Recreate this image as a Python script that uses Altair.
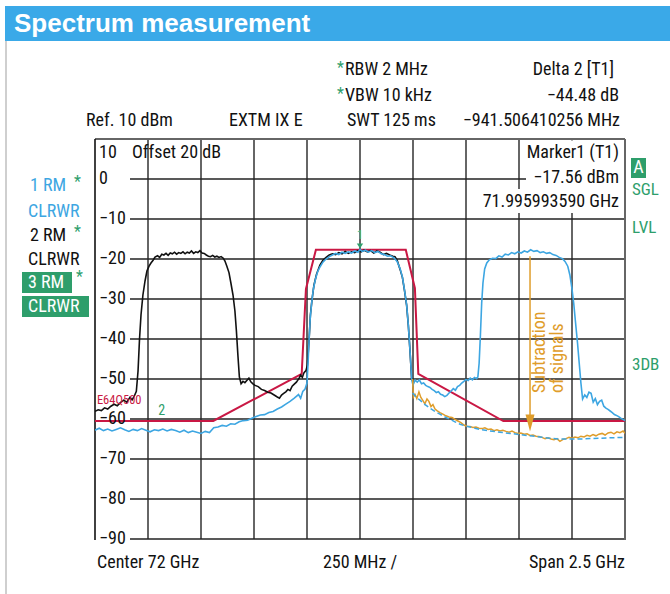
import altair as alt
import pandas as pd

# ---------------- data (frequency in GHz, level in dBm) ----------------
blue_f = [70.75, 70.77, 70.79, 70.81, 70.83, 70.85, 70.87, 70.89, 70.91, 70.93, 70.95, 70.97, 70.99,
          71.01, 71.03, 71.05, 71.07, 71.09, 71.11, 71.13, 71.15, 71.17, 71.19, 71.21, 71.23, 71.25,
          71.27, 71.29, 71.31, 71.33, 71.35, 71.37, 71.39, 71.41, 71.43, 71.45, 71.47, 71.49, 71.51,
          71.53, 71.55, 71.57, 71.59, 71.61, 71.63, 71.65, 71.67, 71.69, 71.71, 71.72, 71.73, 71.74,
          71.750, 71.755, 71.760, 71.765, 71.772, 71.780, 71.790, 71.800, 71.811, 71.825, 71.840,
          71.855, 71.870, 71.885, 71.900, 71.915, 71.930, 71.945, 71.960, 71.975, 71.990, 72.000,
          72.010, 72.025, 72.040, 72.055, 72.070, 72.085, 72.100, 72.115, 72.130, 72.145, 72.160,
          72.175, 72.189, 72.200, 72.210, 72.220, 72.228, 72.236, 72.244,
          72.250, 72.260, 72.270, 72.280, 72.290, 72.300, 72.310, 72.320, 72.330, 72.340, 72.350,
          72.360, 72.370, 72.380, 72.390, 72.400, 72.410, 72.420, 72.430, 72.440, 72.450, 72.460,
          72.470, 72.480, 72.490, 72.500, 72.510, 72.520, 72.530, 72.540, 72.550,
          72.556, 72.562, 72.568, 72.574, 72.580, 72.588, 72.598, 72.610, 72.625, 72.640, 72.655,
          72.670, 72.685, 72.700, 72.715, 72.730, 72.745, 72.760, 72.775, 72.790, 72.805, 72.820,
          72.835, 72.850, 72.865, 72.880, 72.895, 72.910, 72.925, 72.940, 72.955, 72.967, 72.980,
          72.990, 73.000, 73.008, 73.016, 73.026, 73.034, 73.042, 73.050,
          73.060, 73.070, 73.080, 73.090, 73.100, 73.110, 73.120, 73.130, 73.140, 73.150, 73.160,
          73.170, 73.180, 73.190, 73.200, 73.210, 73.220, 73.230, 73.240, 73.250]
blue_db = [-62.8, -62.3, -62.9, -62.5, -63.0, -62.6, -62.2, -62.7, -63.1, -62.6, -62.9, -62.4, -62.8,
           -63.2, -62.7, -62.9, -62.5, -63.0, -62.6, -62.9, -63.3, -62.8, -63.4, -63.0, -63.3, -63.6,
           -63.1, -63.4, -62.2, -62.0, -61.6, -61.8, -61.2, -61.3, -60.7, -60.4, -60.3, -59.8, -59.4,
           -59.0, -58.9, -58.4, -58.1, -57.5, -57.0, -56.3, -55.6, -54.8, -53.9, -54.8, -53.1, -52.6,
           -51.0, -46.0, -40.0, -35.0, -31.0, -27.5, -25.0, -23.2, -22.0, -20.8, -20.0,
           -19.4, -19.0, -18.6, -18.9, -18.3, -18.6, -18.2, -18.5, -18.0, -18.3, -17.6,
           -18.1, -17.8, -18.3, -17.9, -18.4, -18.1, -18.7, -18.9, -19.3, -19.2, -19.7,
           -20.6, -22.4, -24.5, -27.8, -31.5, -36.5, -43.0, -50.2,
           -51.5, -50.3, -50.8, -50.2, -51.2, -51.0, -51.6, -51.9, -52.1, -52.6, -52.9,
           -53.4, -53.2, -53.8, -54.0, -54.4, -54.1, -53.5, -53.0, -52.4, -52.8, -51.9,
           -51.6, -51.0, -50.6, -50.1, -50.4, -49.8, -50.2, -49.6, -49.9,
           -49.5, -46.0, -39.0, -31.0, -26.0, -22.5, -21.0, -20.2, -19.8, -19.9, -19.2,
           -19.5, -18.8, -19.0, -18.4, -18.7, -18.2, -18.5, -18.0, -18.3, -17.7, -18.1,
           -17.9, -18.4, -18.2, -18.6, -18.4, -18.9, -19.1, -19.6, -19.9, -20.6, -21.8,
           -24.0, -27.5, -31.0, -35.5, -41.0, -46.0, -51.0, -55.0,
           -54.0, -54.6, -53.3, -53.6, -55.8, -54.9, -56.4, -55.6, -55.3, -56.8, -57.3,
           -57.6, -58.0, -58.4, -58.9, -59.1, -59.4, -59.8, -60.1, -60.4]

black_f = [70.750, 70.765, 70.780, 70.795, 70.810, 70.825, 70.840, 70.855, 70.870, 70.885, 70.900,
           70.915, 70.925, 70.935, 70.945, 70.953, 70.960, 70.967, 70.976, 70.986, 70.995, 71.005,
           71.014, 71.024, 71.033, 71.045, 71.055, 71.065, 71.075, 71.085, 71.095, 71.105, 71.115,
           71.125, 71.135, 71.145, 71.155, 71.165, 71.175, 71.185, 71.195, 71.205, 71.215, 71.225,
           71.235, 71.245, 71.255, 71.265, 71.275, 71.285, 71.295, 71.305, 71.315, 71.325, 71.335,
           71.345, 71.355, 71.363, 71.372, 71.382, 71.391, 71.401, 71.410, 71.417, 71.424, 71.431,
           71.439, 71.448, 71.457, 71.467, 71.476, 71.485, 71.495, 71.505, 71.520, 71.535, 71.550,
           71.565, 71.580, 71.595, 71.610, 71.620, 71.630, 71.640, 71.650, 71.660, 71.670, 71.680,
           71.690, 71.700, 71.705, 71.712, 71.720, 71.728, 71.736, 71.745, 71.752, 71.760, 71.766,
           71.774, 71.783, 71.795, 71.811, 71.825, 71.840, 71.855, 71.870, 71.885, 71.900, 71.915,
           71.930, 71.945, 71.960, 71.975, 71.990, 72.005, 72.020, 72.035, 72.050, 72.065, 72.080,
           72.095, 72.110, 72.125, 72.140, 72.155, 72.165, 72.175, 72.189, 72.200, 72.210, 72.220,
           72.228, 72.236, 72.244]
black_db = [-58.1, -57.7, -57.9, -57.2, -57.5, -56.8, -56.3, -56.7, -55.9, -55.3, -55.8,
            -54.6, -55.2, -54.3, -53.1, -48.0, -40.0, -34.0, -29.0, -25.5, -23.0, -21.8,
            -21.0, -20.3, -19.5, -19.2, -19.6, -18.8, -19.0, -18.6, -19.1, -18.5, -18.7,
            -18.3, -18.8, -18.4, -18.6, -18.2, -18.7, -18.3, -18.5, -18.0, -18.6, -18.2,
            -18.4, -17.9, -18.5, -18.6, -19.0, -19.3, -19.4, -19.1, -19.5, -19.3, -19.6,
            -19.4, -19.8, -20.5, -21.8, -23.4, -26.0, -29.0, -33.0, -38.0, -44.0, -49.5,
            -51.2, -50.6, -50.9, -50.3, -49.8, -50.7, -51.2, -51.6, -51.9, -52.6, -52.9,
            -53.3, -53.5, -54.0, -54.5, -54.8, -54.0, -53.6, -53.2, -52.6, -52.9, -51.8,
            -51.3, -50.8, -50.4, -49.9, -49.0, -49.6, -48.4, -47.9, -46.5, -40.0, -34.0,
            -30.0, -26.5, -23.8, -21.5, -20.3, -19.6, -19.0, -18.7, -18.9, -18.4, -18.7,
            -18.1, -18.6, -18.2, -18.4, -17.9, -18.2, -17.8, -18.2, -17.9, -18.5, -18.0,
            -18.3, -18.9, -18.6, -19.0, -19.3, -19.4, -20.3, -22.6, -24.6, -27.9, -31.6,
            -36.6, -43.1, -50.3]

orange_f = [72.248, 72.252, 72.259, 72.268, 72.278, 72.287, 72.297, 72.306, 72.316, 72.325, 72.335,
            72.344, 72.354, 72.363, 72.377, 72.391, 72.405, 72.420, 72.434, 72.448, 72.462, 72.476,
            72.490, 72.504, 72.519, 72.533, 72.547, 72.561, 72.575, 72.589, 72.604, 72.618, 72.632,
            72.646, 72.660, 72.674, 72.689, 72.703, 72.717, 72.731, 72.745, 72.759, 72.774, 72.788,
            72.802, 72.816, 72.830, 72.844, 72.858, 72.873, 72.887, 72.901, 72.915, 72.929, 72.943,
            72.958, 72.972, 72.986, 73.000, 73.014, 73.028, 73.042, 73.057, 73.071, 73.085, 73.099,
            73.113, 73.127, 73.142, 73.156, 73.170, 73.184, 73.198, 73.212, 73.226, 73.241, 73.250]
orange_db = [-50.0, -54.5, -53.8, -54.9, -53.2, -54.6, -55.4, -56.2, -55.0, -55.6, -56.9,
             -56.4, -57.5, -57.9, -58.4, -58.8, -59.2, -59.5, -59.6, -60.1, -60.5, -60.9,
             -61.5, -61.8, -61.9, -62.1, -62.0, -62.3, -62.4, -62.2, -62.6, -62.5, -62.9,
             -62.7, -63.0, -62.8, -63.1, -63.3, -63.0, -63.4, -63.6, -63.5, -63.8, -63.7,
             -64.1, -64.0, -64.3, -64.4, -64.6, -64.9, -64.7, -65.0, -65.2, -64.9, -65.6,
             -65.1, -64.9, -64.6, -64.8, -64.5, -64.7, -64.3, -64.5, -64.1, -64.3, -63.9,
             -64.2, -63.8, -63.6, -64.0, -63.5, -63.3, -63.7, -63.2, -63.4, -63.0, -63.6]

dashed_f = [72.248, 72.264, 72.283, 72.307, 72.330, 72.354, 72.377, 72.401, 72.425, 72.448, 72.472,
            72.495, 72.519, 72.542, 72.566, 72.613, 72.660, 72.708, 72.755, 72.802, 72.849, 72.896,
            72.943, 72.990, 73.038, 73.085, 73.132, 73.179, 73.250]
dashed_db = [-53.5, -54.5, -55.3, -56.4, -57.3, -58.1, -58.8, -59.5, -60.1, -60.7, -61.3,
             -61.7, -62.0, -62.3, -62.6, -63.0, -63.3, -63.6, -63.9, -64.2, -64.5, -64.8,
             -65.0, -65.0, -65.0, -64.9, -64.8, -64.7, -64.6]

limit_f = [70.750, 71.308, 71.725, 71.745, 71.792, 72.216, 72.259, 72.275, 72.676, 73.250]
limit_db = [-60.5, -60.5, -48.7, -27.5, -17.7, -17.7, -27.3, -48.7, -60.5, -60.5]

grid_f = [71.0, 71.25, 71.5, 71.75, 72.0, 72.25, 72.5, 72.75, 73.0]
grid_db = [0, -10, -20, -30, -40, -50, -60, -70, -80, -90]
y_tick_labels = ["0", "−10", "−20", "−30", "−40", "−50", "−60", "−70", "−80", "−90"]

marker1 = {"f": 72.0, "db": -17.56}
marker2 = {"f": 71.0585, "db": -62.04}
arrow = {"f": 72.802, "top": -19.3, "tip": -63.1}

# ---------------- layout / style ----------------
W, H = 530, 400
X0, Y0 = 95, 139
FONT = "Roboto Condensed, Liberation Sans, sans-serif"
BLUE = "#3da6e2"
BLACK = "#111111"
RED = "#c91844"
ORANGE = "#df9d2b"
GREEN = "#2e9e6b"

xs = alt.Scale(domain=[70.75, 73.25], nice=False, zero=False)
ys = alt.Scale(domain=[-90, 10], nice=False, zero=False)
one = pd.DataFrame({"a": [0]})


def trace(f, db, color, width=1.5, dash=None):
    df = pd.DataFrame({"f": f, "db": db, "i": list(range(len(f)))})
    kw = dict(color=color, strokeWidth=width, clip=True)
    if dash:
        kw["strokeDash"] = dash
    return alt.Chart(df).mark_line(**kw).encode(
        x=alt.X("f:Q", scale=xs, axis=None),
        y=alt.Y("db:Q", scale=ys, axis=None),
        order="i:Q",
    )


def txt(s, x, y, color=BLACK, size=18, align="left", font=FONT, weight="normal"):
    return alt.Chart(pd.DataFrame({"t": [s]})).mark_text(
        align=align, baseline="middle", color=color, fontSize=size, font=font, fontWeight=weight
    ).encode(x=alt.value(x - X0), y=alt.value(y - Y0), text="t:N")


def box(x1, y1, x2, y2, color):
    return alt.Chart(one).mark_rect(color=color).encode(
        x=alt.value(x1 - X0), x2=alt.value(x2 - X0), y=alt.value(y1 - Y0), y2=alt.value(y2 - Y0)
    )


def rule(x1, y1, x2, y2, color, width):
    return alt.Chart(one).mark_rule(color=color, strokeWidth=width).encode(
        x=alt.value(x1 - X0), x2=alt.value(x2 - X0), y=alt.value(y1 - Y0), y2=alt.value(y2 - Y0)
    )


layers = []

# header bar and page border
layers.append(box(5, 6, 670, 41, "#3aa9e8"))
layers.append(txt("Spectrum measurement", 14, 24, "white", 26, font="Liberation Sans, Arial, sans-serif", weight="bold"))
layers.append(rule(6, 41, 6, 594, "#cfcfcf", 2))

# grid
vgrid = alt.Chart(pd.DataFrame({"f": grid_f})).mark_rule(color="#666666", strokeWidth=2).encode(
    x=alt.X("f:Q", scale=xs, axis=None), y=alt.value(0), y2=alt.value(H))
hgrid = alt.Chart(pd.DataFrame({"db": grid_db})).mark_rule(color="#222222", strokeWidth=1.6).encode(
    y=alt.Y("db:Q", scale=ys, axis=None), x=alt.value(35), x2=alt.value(W))
layers += [vgrid, hgrid]

# marker info background
layers.append(box(478, 189, 624, 213, "white"))
layers.append(box(526, 140.5, 624, 189, "white"))

# frame
layers.append(rule(95, 139, 625, 139, "#666666", 2))
layers.append(rule(625, 139, 625, 540, "#666666", 2))
layers.append(rule(95, 139, 95, 540, "#111111", 1.6))

# traces
layers.append(trace(limit_f, limit_db, RED, 2))
layers.append(trace(black_f, black_db, BLACK, 1.6))
layers.append(trace(blue_f, blue_db, BLUE, 1.6))
layers.append(trace(orange_f, orange_db, ORANGE, 1.5))
layers.append(trace(dashed_f, dashed_db, BLUE, 1.5, dash=[5, 3]))

# subtraction arrow
adf = pd.DataFrame({"f": [arrow["f"]], "top": [arrow["top"]], "tip": [arrow["tip"]], "mid": [arrow["tip"] + 2.1]})
layers.append(alt.Chart(adf).mark_rule(color=ORANGE, strokeWidth=1.5).encode(
    x=alt.X("f:Q", scale=xs, axis=None), y=alt.Y("top:Q", scale=ys, axis=None), y2="mid:Q"))
layers.append(alt.Chart(adf).mark_point(
    shape="M -0.53 -1 L 0.53 -1 L 0 1 Z", filled=True, size=289, color=ORANGE, opacity=1).encode(
    x=alt.X("f:Q", scale=xs, axis=None), y=alt.Y("mid:Q", scale=ys, axis=None)))
sub = pd.DataFrame({"f": [72.850, 72.935], "db": [-53.5, -53.5], "t": ["Subtraction", "of signals"]})
layers.append(alt.Chart(sub).mark_text(angle=270, align="left", baseline="middle", color=ORANGE,
                                       fontSize=18, font=FONT).encode(
    x=alt.X("f:Q", scale=xs, axis=None), y=alt.Y("db:Q", scale=ys, axis=None), text="t:N"))

# markers
m1 = pd.DataFrame({"f": [marker1["f"]], "tri": [-16.75], "lab": [-13.9], "t": ["1"]})
layers.append(alt.Chart(m1).mark_point(shape="M -1 -0.8 L 1 -0.8 L 0 0.8 Z", filled=True, size=40,
                                       color=GREEN, opacity=1).encode(
    x=alt.X("f:Q", scale=xs, axis=None), y=alt.Y("tri:Q", scale=ys, axis=None)))
layers.append(alt.Chart(m1).mark_text(color="#4dbb85", fontSize=12, font=FONT, baseline="middle").encode(
    x=alt.X("f:Q", scale=xs, axis=None), y=alt.Y("lab:Q", scale=ys, axis=None), text="t:N"))
m2 = pd.DataFrame({"f": [marker2["f"] + 0.006], "lab": [-57.9], "t": ["2"]})
layers.append(alt.Chart(m2).mark_text(color=GREEN, fontSize=14, font=FONT, baseline="middle").encode(
    x=alt.X("f:Q", scale=xs, axis=None), y=alt.Y("lab:Q", scale=ys, axis=None), text="t:N"))
lim = pd.DataFrame({"f": [70.759], "db": [-55.2], "t": ["E64Q500"]})
layers.append(alt.Chart(lim).mark_text(color=RED, fontSize=12.5, font=FONT, align="left", baseline="middle").encode(
    x=alt.X("f:Q", scale=xs, axis=None), y=alt.Y("db:Q", scale=ys, axis=None), text="t:N"))

# y tick labels (inside the frame)
ylab = pd.DataFrame({"db": grid_db, "t": y_tick_labels})
layers.append(alt.Chart(ylab).mark_text(align="left", baseline="middle", fontSize=18, font=FONT, color=BLACK).encode(
    y=alt.Y("db:Q", scale=ys, axis=None), x=alt.value(4), text="t:N"))
layers.append(txt("10", 99, 153))
layers.append(txt("Offset 20 dB", 132, 153))

# header annotations
layers.append(txt("*", 337, 68, GREEN, 16))
layers.append(txt("RBW  2 MHz", 345, 70))
layers.append(txt("*", 337, 94, GREEN, 16))
layers.append(txt("VBW 10 kHz", 345, 96))
layers.append(txt("Ref. 10 dBm", 86, 121))
layers.append(txt("EXTM IX E", 229, 121))
layers.append(txt("SWT 125 ms", 347, 121))
layers.append(txt("−941.506410256 MHz", 620, 121, align="right"))
layers.append(txt("Delta 2 [T1]", 614, 70, align="right"))
layers.append(txt("−44.48 dB", 619, 96, align="right"))

# marker readout
layers.append(txt("Marker1 (T1)", 619, 153, align="right"))
layers.append(txt("−17.56 dBm", 619, 178, align="right"))
layers.append(txt("71.995993590 GHz", 619, 202, align="right"))

# trace labels on the left
layers.append(txt("1 RM", 30, 186, BLUE))
layers.append(txt("*", 74, 182, GREEN, 16))
layers.append(txt("CLRWR", 28, 212, BLUE))
layers.append(txt("2 RM", 30, 236))
layers.append(txt("*", 74, 232, GREEN, 16))
layers.append(txt("CLRWR", 28, 260))
layers.append(box(22, 272, 72, 293, GREEN))
layers.append(txt("3 RM", 28, 283, "white"))
layers.append(txt("*", 76, 277, GREEN, 16))
layers.append(box(22, 296, 89, 317, GREEN))
layers.append(txt("CLRWR", 28, 307, "white"))

# right status labels
layers.append(box(631, 158, 646, 178, GREEN))
layers.append(txt("A", 638.5, 168, "white", 18, align="center"))
layers.append(txt("SGL", 632, 190, GREEN, 17))
layers.append(txt("LVL", 632, 228, GREEN, 17))
layers.append(txt("3DB", 632, 365, GREEN, 17))

# bottom annotations
layers.append(txt("Center 72 GHz", 97, 563))
layers.append(txt("250 MHz /", 360, 563, align="center"))
layers.append(txt("Span 2.5 GHz", 625, 563, align="right"))

chart = alt.layer(*layers).properties(
    width=W, height=H,
    autosize=alt.AutoSizeParams(type="none"),
    padding={"left": X0, "top": Y0, "right": 670 - X0 - W, "bottom": 594 - Y0 - H},
    background="white",
).configure_view(stroke=None)

chart.save("out.html", embed_options={"renderer": "svg", "actions": False})
